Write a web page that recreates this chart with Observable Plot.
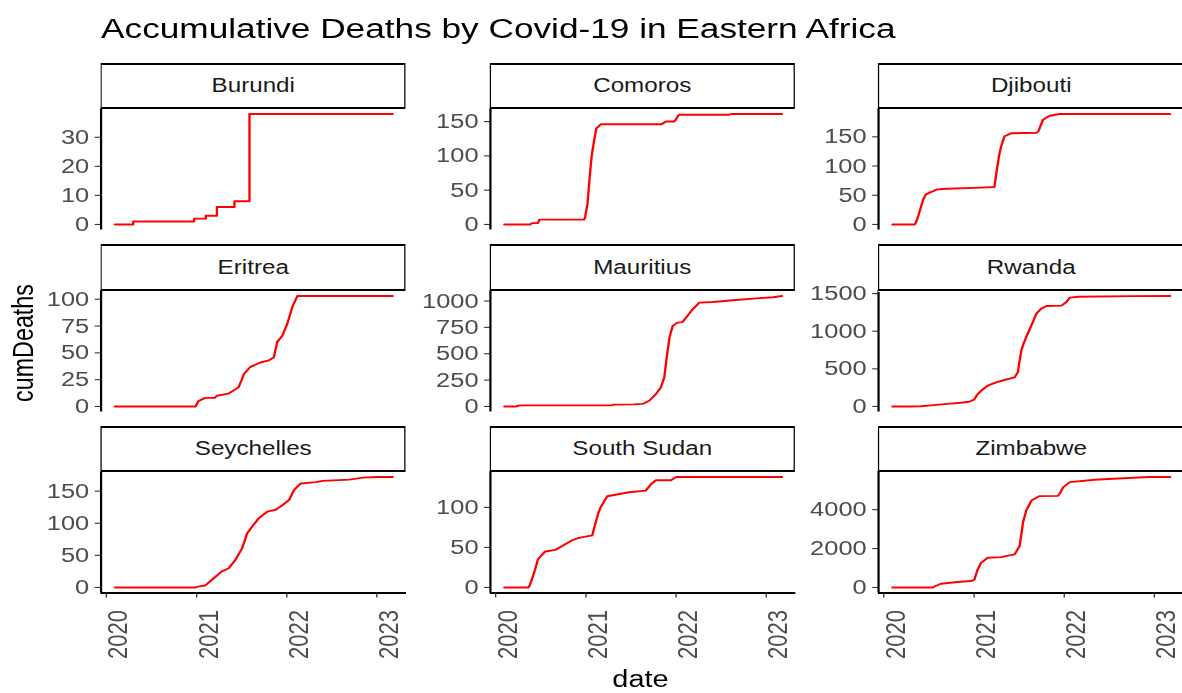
<!DOCTYPE html>
<html>
<head>
<meta charset="utf-8">
<script src="https://cdn.jsdelivr.net/npm/d3@7"></script>
<script src="https://cdn.jsdelivr.net/npm/@observablehq/plot@0.6"></script>
<style>
html, body { margin: 0; padding: 0; background: #fff; overflow: hidden; }
#chart { position: relative; width: 953px; height: 693px; transform: scaleX(1.24); transform-origin: 0 0;
  font-family: "Liberation Sans", Arial, sans-serif; }
.abs { position: absolute; white-space: nowrap; line-height: 1; }
.strip { position: absolute; box-sizing: border-box; border-style: solid; border-color: #000;
  border-width: 2.2px 1.8px; background: #fff; display: flex; align-items: center; justify-content: center;
  font-size: 19.5px; color: #1a1a1a; line-height: 1; }
</style>
</head>
<body>
<div id="chart"></div>
<script>
const countries = ["Burundi", "Comoros", "Djibouti", "Eritrea", "Mauritius", "Rwanda", "Seychelles", "South Sudan", "Zimbabwe"];

const burundiDates = ["2020-02-05","2020-04-19","2020-04-19","2020-12-22","2020-12-22","2021-02-07","2021-02-07","2021-03-24","2021-03-24","2021-06-03","2021-06-03","2021-08-03","2021-08-03","2023-03-06"];
const burundiDeaths = [0,0,1,1,2,2,3,3,6,6,8,8,38,38];

const comorosDates = ["2020-02-05","2020-05-20","2020-05-27","2020-06-20","2020-06-26","2020-12-24","2020-12-28","2021-01-07","2021-01-16","2021-01-24","2021-02-04","2021-02-12","2021-03-02","2021-11-01","2021-11-07","2021-11-21","2021-12-25","2021-12-31","2022-01-08","2022-01-13","2022-08-05","2022-08-12","2023-03-06"];
const comorosDeaths = [0,0,2,2,7,7,10,30,70,100,125,140,146,146,147,150,150,153,158,160,160,161,161];

const djiboutiDates = ["2020-02-05","2020-05-05","2020-05-09","2020-05-20","2020-05-29","2020-06-09","2020-06-19","2020-07-02","2020-08-05","2020-09-15","2021-01-29","2021-03-24","2021-03-31","2021-04-07","2021-04-13","2021-04-20","2021-05-04","2021-05-31","2021-09-12","2021-09-19","2021-09-28","2021-10-07","2021-11-03","2021-12-14","2023-03-06"];
const djiboutiDeaths = [0,0,2,15,28,43,51,54,60,61,63,64,85,104,120,133,151,156,157,160,170,179,186,189,189];

const eritreaDates = ["2020-02-05","2020-12-28","2021-01-08","2021-02-04","2021-03-15","2021-03-24","2021-05-10","2021-05-31","2021-06-20","2021-07-01","2021-07-11","2021-08-07","2021-09-16","2021-10-21","2021-11-10","2021-11-23","2021-12-14","2022-01-03","2022-01-24","2022-02-13","2023-03-06"];
const eritreaDeaths = [0,0,5,8,8,10,12,15,18,24,30,37,41,43,46,60,66,77,93,103,103];

const mauritiusDates = ["2020-02-05","2020-03-20","2020-03-26","2020-04-02","2020-04-10","2021-04-15","2021-04-24","2021-07-14","2021-08-15","2021-08-25","2021-09-14","2021-10-11","2021-10-31","2021-11-14","2021-11-24","2021-12-05","2021-12-18","2022-01-06","2022-01-27","2022-02-10","2022-03-09","2022-04-05","2022-05-30","2022-08-19","2022-11-22","2023-01-29","2023-03-06"];
const mauritiusDeaths = [0,0,2,7,10,10,17,20,25,30,54,117,180,274,464,653,763,795,800,842,921,984,990,1007,1025,1035,1047];

const rwandaDates = ["2020-02-05","2020-04-20","2020-05-30","2020-07-09","2020-09-15","2020-11-08","2020-12-12","2021-01-01","2021-01-15","2021-02-04","2021-02-25","2021-03-31","2021-05-04","2021-06-14","2021-06-27","2021-07-04","2021-07-11","2021-07-21","2021-07-31","2021-08-21","2021-09-10","2021-09-30","2021-10-21","2021-12-21","2022-01-10","2022-01-24","2022-02-27","2022-10-02","2023-03-06"];
const rwandaDeaths = [0,0,2,15,35,50,63,90,165,225,276,320,352,387,454,600,744,840,921,1077,1233,1300,1335,1340,1389,1447,1458,1466,1468];

const seychellesDates = ["2020-02-05","2020-12-30","2021-01-02","2021-02-04","2021-03-04","2021-04-13","2021-05-11","2021-06-07","2021-07-04","2021-07-14","2021-07-24","2021-08-14","2021-09-10","2021-10-14","2021-11-17","2021-12-14","2022-01-10","2022-01-31","2022-02-27","2022-04-29","2022-05-26","2022-09-12","2022-11-05","2023-01-05","2023-03-06"];
const seychellesDeaths = [0,0,1,3,12,25,30,43,61,72,84,95,108,118,121,128,136,152,162,164,166,168,171,172,172];

const southSudanDates = ["2020-02-05","2020-05-13","2020-05-20","2020-05-29","2020-06-12","2020-06-20","2020-07-04","2020-07-20","2020-08-30","2020-10-09","2020-11-06","2020-12-03","2021-01-26","2021-02-09","2021-02-19","2021-03-01","2021-03-28","2021-06-24","2021-08-31","2021-09-21","2021-10-11","2021-12-11","2022-01-01","2023-03-06"];
const southSudanDeaths = [0,0,4,12,26,35,40,45,47,54,59,62,65,81,92,100,114,119,121,129,134,134,138,138];

const zimbabweDates = ["2020-02-05","2020-07-18","2020-07-23","2020-08-03","2020-08-19","2020-10-26","2020-12-19","2021-01-02","2021-01-15","2021-01-29","2021-02-25","2021-04-20","2021-06-14","2021-07-04","2021-07-11","2021-07-18","2021-07-31","2021-08-21","2021-09-23","2021-12-07","2021-12-17","2021-12-28","2022-01-24","2022-05-05","2022-06-29","2022-12-09","2023-03-06"];
const zimbabweDeaths = [0,0,40,100,192,280,330,400,920,1267,1527,1560,1700,2130,2700,3345,3950,4470,4700,4710,4900,5160,5420,5540,5580,5680,5680];

const burundiTicks = [0,10,20,30];
const comorosTicks = [0,50,100,150];
const djiboutiTicks = [0,50,100,150];
const eritreaTicks = [0,25,50,75,100];
const mauritiusTicks = [0,250,500,750,1000];
const rwandaTicks = [0,500,1000,1500];
const seychellesTicks = [0,50,100,150];
const southSudanTicks = [0,50,100];
const zimbabweTicks = [0,2000,4000];
const yearTicks = ["2020-01-01","2021-01-01","2022-01-01","2023-01-01"];

const titleText = "Accumulative Deaths by Covid-19 in Eastern Africa";
const xLabel = "date";
const yLabel = "cumDeaths";

const seriesDates = [burundiDates, comorosDates, djiboutiDates, eritreaDates, mauritiusDates, rwandaDates, seychellesDates, southSudanDates, zimbabweDates];
const seriesDeaths = [burundiDeaths, comorosDeaths, djiboutiDeaths, eritreaDeaths, mauritiusDeaths, rwandaDeaths, seychellesDeaths, southSudanDeaths, zimbabweDeaths];
const seriesTicks = [burundiTicks, comorosTicks, djiboutiTicks, eritreaTicks, mauritiusTicks, rwandaTicks, seychellesTicks, southSudanTicks, zimbabweTicks];

// layout (unscaled coordinates; the container is stretched horizontally by S)
const S = 1.24;
const ML = 62, MR = 3, MT = 3;
const PW = 305.5 / S, PH = 121.5;
const panelLeft = c => (100.5 + 389 * c) / S;
const panelTop = r => 108 + 181.5 * r;
const FONT = "'Liberation Sans', Arial, sans-serif";

const chart = document.getElementById("chart");

function addDiv(cls, text, css) {
  const d = document.createElement("div");
  d.className = cls;
  d.textContent = text;
  Object.assign(d.style, css);
  chart.appendChild(d);
  return d;
}

addDiv("abs", titleText, {left: "81.5px", top: "14.3px", fontSize: "28.4px", color: "#000"});
addDiv("abs", yLabel, {left: "18.5px", top: "342.5px", fontSize: "23.3px", color: "#000",
  transform: "translate(-50%,-50%) rotate(-90deg)"});
addDiv("abs", xLabel, {left: "516.5px", top: "668.3px", fontSize: "23.3px", color: "#000",
  transform: "translateX(-50%)"});

const allDates = seriesDates.flat().map(d => new Date(d));
const [d0, d1] = d3.extent(allDates);
const pad = (d1 - d0) * 0.05;
const xDomain = [new Date(+d0 - pad), new Date(+d1 + pad)];
const yearDates = yearTicks.map(d => new Date(d));

countries.forEach((name, i) => {
  const r = Math.floor(i / 3), c = i % 3;
  const bottom = r === 2;
  const data = seriesDates[i].map((d, j) => ({date: new Date(d), deaths: seriesDeaths[i][j]}));
  const ymax = d3.max(seriesDeaths[i]);
  const yDomain = [-0.05 * ymax, 1.05 * ymax];
  const MB = bottom ? 85 : 3;

  const marks = [
    Plot.axisY({ticks: seriesTicks[i], tickFormat: d => String(d), label: null, tickSize: 4.6, tickPadding: 5,
      fontSize: 20.5, fill: "#4d4d4d", stroke: "#333333", strokeWidth: 1.1}),
    Plot.ruleX([xDomain[0]], {stroke: "#000", strokeWidth: 1.8}),
    Plot.line(data, {x: "date", y: "deaths", stroke: "#ff0000", strokeWidth: 1.9})
  ];
  if (bottom) {
    marks.push(
      Plot.ruleY([yDomain[0]], {stroke: "#000", strokeWidth: 1.8}),
      Plot.axisX({ticks: yearDates, tickFormat: () => "", label: null, tickSize: 5, stroke: "#333333", strokeWidth: 1.1}),
      Plot.axisX({ticks: yearDates, tickFormat: d => String(d.getUTCFullYear()), label: null, tickSize: 0, tickPadding: 17,
        tickRotate: -90, fontSize: 22, fill: "#4d4d4d", dx: 10})
    );
  }

  const svg = Plot.plot({
    width: ML + PW + MR,
    height: MT + PH + MB,
    marginLeft: ML, marginRight: MR, marginTop: MT, marginBottom: MB,
    x: {type: "utc", domain: xDomain, axis: bottom ? undefined : null, label: null},
    y: {domain: yDomain, label: null},
    style: {fontFamily: FONT, background: "transparent", overflow: "visible", color: "#000"},
    marks
  });
  svg.style.position = "absolute";
  svg.style.left = (panelLeft(c) - ML) + "px";
  svg.style.top = (panelTop(r) - MT) + "px";
  svg.style.maxWidth = "none";
  chart.appendChild(svg);

  addDiv("strip", name, {left: panelLeft(c) + "px", top: (panelTop(r) - 45.5) + "px",
    width: PW + "px", height: "46.5px"});
});
</script>
</body>
</html>
